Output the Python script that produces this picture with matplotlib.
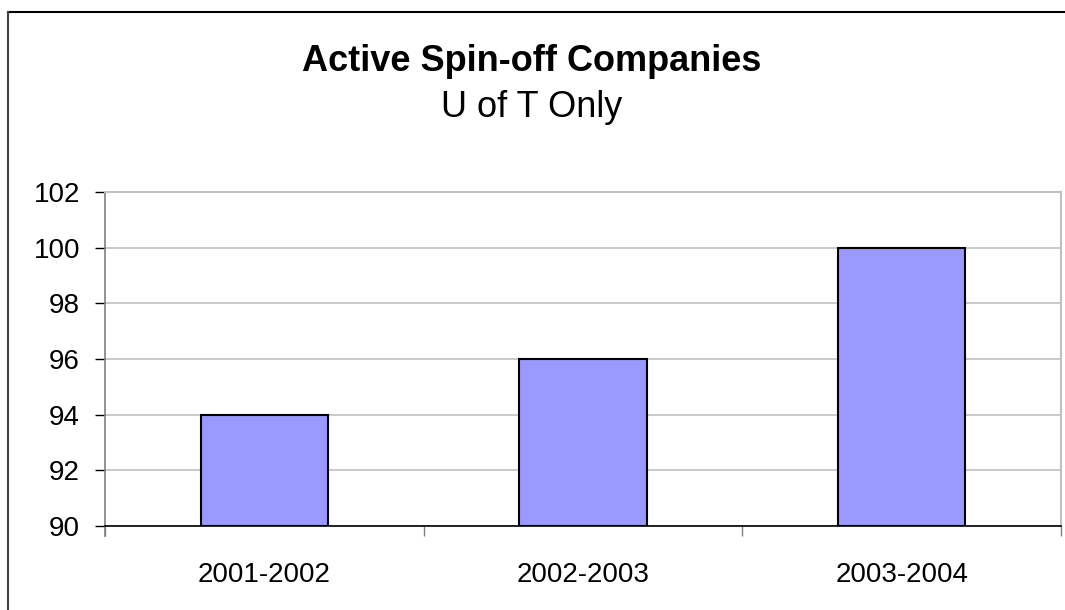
import numpy as np
import matplotlib
matplotlib.use('Agg')
import matplotlib.pyplot as plt
from matplotlib.lines import Line2D

# datos
categorias = ['2001-2002', '2002-2003', '2003-2004']
empresas = [94, 96, 100]
ticks_y = [90, 92, 94, 96, 98, 100, 102]

plt.rcParams['font.family'] = ['Liberation Sans', 'DejaVu Sans']

W, H = 1065, 610
fig = plt.figure(figsize=(W / 100, H / 100), dpi=100)
fig.patch.set_facecolor('white')

# area de trazado en pixeles
x0, x1 = 105, 1061
y_top, y_bot = 192, 526
ax = fig.add_axes([x0 / W, 1 - y_bot / H, (x1 - x0) / W, (y_bot - y_top) / H])

pos = np.arange(len(categorias))
ax.bar(pos, np.array(empresas) - 90, bottom=90, width=0.4,
       color='#9999FF', edgecolor='black', linewidth=1.5, zorder=3)

ax.set_xlim(-0.5, len(categorias) - 0.5)
ax.set_ylim(ticks_y[0], ticks_y[-1])
ax.set_yticks(ticks_y)
ax.yaxis.grid(True, color='#c0c0c0', linewidth=1.2, zorder=0)

ax.set_xticks(pos)
ax.set_xticklabels(categorias, fontsize=20)
ax.set_xticks(np.arange(-0.5, len(categorias)), minor=True)
ax.tick_params(axis='x', which='major', length=0, pad=26)
ax.tick_params(axis='x', which='minor', length=7.5, width=1, color='#808080')
ax.tick_params(axis='y', length=7.5, width=1, color='black', labelsize=20, pad=10.5)

for lado in ['top', 'right']:
    ax.spines[lado].set_color('#c0c0c0')
    ax.spines[lado].set_linewidth(1.5)
ax.spines['left'].set_color('#808080')
ax.spines['left'].set_linewidth(1.2)
ax.spines['left'].set_bounds(ticks_y[0] - 10 / 28, ticks_y[-1])
ax.spines['bottom'].set_color('black')
ax.spines['bottom'].set_linewidth(1.2)

# titulo
fig.text(532 / W, 1 - 71 / H, 'Active Spin-off Companies', ha='center', va='baseline',
         fontsize=26, fontweight='bold')
fig.text(532 / W, 1 - 117 / H, 'U of T Only', ha='center', va='baseline', fontsize=26)

# borde del grafico
fig.add_artist(Line2D([8 / W, 1], [1 - 12 / H, 1 - 12 / H], color='black', linewidth=1.5,
                      transform=fig.transFigure))
fig.add_artist(Line2D([8 / W, 8 / W], [1 - 12 / H, 0], color='#404040', linewidth=1.5,
                      transform=fig.transFigure))

fig.savefig('out.png', dpi=100)
